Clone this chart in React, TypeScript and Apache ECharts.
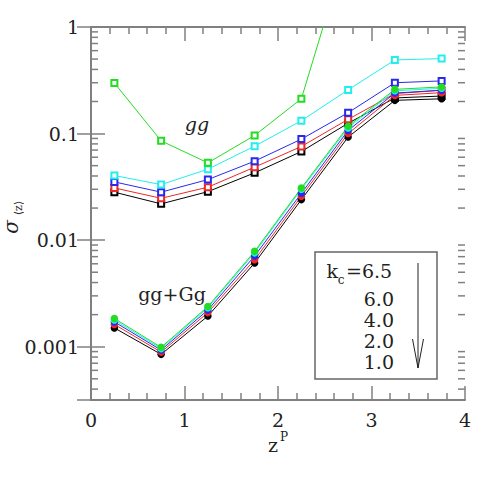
import React, { useEffect, useRef } from "react";
import * as echarts from "echarts";

const xValues = [0.25, 0.75, 1.25, 1.75, 2.25, 2.75, 3.25, 3.75];

// gg (open squares)
const ggK65 = [0.298, 0.0855, 0.0531, 0.096, 0.212, 6.0, null, null];
const ggK60 = [0.0404, 0.0332, 0.0463, 0.0762, 0.132, 0.257, 0.491, 0.505];
const ggK40 = [0.0352, 0.0282, 0.037, 0.0551, 0.0887, 0.157, 0.3, 0.312];
const ggK20 = [0.0309, 0.0247, 0.0314, 0.0484, 0.0757, 0.136, 0.237, 0.255];
const ggK10 = [0.0282, 0.0219, 0.0285, 0.0428, 0.0679, 0.125, 0.216, 0.225];

// gg+Gg (filled circles)
const gGgK65 = [0.00184, 0.000987, 0.00238, 0.00785, 0.0309, 0.117, 0.26, 0.274];
const gGgK60 = [0.00178, 0.00096, 0.00232, 0.0076, 0.03, 0.113, 0.252, 0.266];
const gGgK40 = [0.00171, 0.00093, 0.00221, 0.0071, 0.0275, 0.107, 0.24, 0.255];
const gGgK20 = [0.00162, 0.00089, 0.00209, 0.00655, 0.0258, 0.1, 0.228, 0.242];
const gGgK10 = [0.0015, 0.000848, 0.00194, 0.0061, 0.024, 0.0927, 0.205, 0.212];

const yTickLabels = ["1", "0.1", "0.01", "0.001"];
const legendValues = ["6.5", "6.0", "4.0", "2.0", "1.0"];

const GREEN = "#22dd22";
const CYAN = "#22eeee";
const BLUE = "#2828ee";
const RED = "#ee2828";
const BLACK = "#000000";

const FONT = "DejaVu Serif";
const TEXT = "#222";
const AXIS = "#808080";

const minorY: number[] = [];
for (let e = -4; e <= -1; e++) {
  for (let m = 2; m <= 9; m++) {
    const v = m * Math.pow(10, e);
    if (v > Math.pow(10, -3.5)) minorY.push(v);
  }
}

function pair(ys: (number | null)[]) {
  return xValues.map((x, i) => [x, ys[i] == null ? "-" : ys[i]]);
}

export default function App() {
  const ref = useRef<HTMLDivElement>(null);
  useEffect(() => {
    document.body.style.margin = "0";
    const chart = echarts.init(ref.current!, null, { renderer: "svg" });

    const sq = (name: string, ys: (number | null)[], color: string) => ({
      type: "line",
      name,
      data: pair(ys),
      symbol: "emptyRect",
      symbolSize: 6,
      showAllSymbol: true,
      lineStyle: { color, width: 1 },
      itemStyle: { color, borderColor: color, borderWidth: 1 },
      clip: true,
      z: 3,
    });
    const circ = (name: string, ys: number[], color: string) => ({
      type: "line",
      name,
      data: pair(ys),
      symbol: "circle",
      symbolSize: 7.5,
      lineStyle: { color, width: 1 },
      itemStyle: { color, borderColor: color, borderWidth: 0 },
      clip: true,
      z: 4,
    });

    const axisCommon = {
      min: 0,
      max: 4,
      interval: 1,
      axisLine: { lineStyle: { color: AXIS, width: 2 } },
      axisTick: { inside: true, length: 14, lineStyle: { color: AXIS, width: 1.5 } },
      minorTick: { show: true, splitNumber: 5, length: 7, lineStyle: { color: AXIS, width: 1.5 } },
      splitLine: { show: false },
    };
    const yCommon = {
      type: "log",
      logBase: 10,
      min: Math.pow(10, -3.5),
      max: 1,
      axisLine: { lineStyle: { color: AXIS, width: 2 } },
      axisTick: { inside: true, length: 14, lineStyle: { color: AXIS, width: 1.5 } },
      splitLine: { show: false },
    };

    const legendGraphics: any[] = [
      {
        type: "rect",
        shape: { x: 315, y: 252, width: 122, height: 127 },
        style: { fill: "none", stroke: "#666", lineWidth: 1.5 },
      },
      {
        type: "text",
        x: 338,
        y: 271,
        style: { text: "k", font: `19px "${FONT}"`, fill: TEXT, align: "right", verticalAlign: "middle" },
      },
      {
        type: "text",
        x: 341,
        y: 280,
        style: { text: "c", font: `12px "${FONT}"`, fill: TEXT, align: "center", verticalAlign: "middle" },
      },
      {
        type: "text",
        x: 346,
        y: 271,
        style: { text: "=" + legendValues[0], font: `19px "${FONT}"`, fill: TEXT, align: "left", verticalAlign: "middle" },
      },
      {
        type: "line",
        shape: { x1: 418, y1: 263, x2: 418, y2: 368 },
        style: { stroke: "#222", lineWidth: 1 },
      },
      {
        type: "polyline",
        shape: { points: [[412.5, 339], [418, 368], [423.5, 339]] },
        style: { stroke: "#222", lineWidth: 1, fill: "none" },
      },
    ];
    const legendYs = [299, 320, 341, 362];
    legendValues.slice(1).forEach((v, i) => {
      legendGraphics.push({
        type: "text",
        x: 394,
        y: legendYs[i],
        style: { text: v, font: `19px "${FONT}"`, fill: TEXT, align: "right", verticalAlign: "middle" },
      });
    });

    chart.setOption({
      animation: false,
      grid: { left: 91, top: 27, right: 26, bottom: 91, containLabel: false },
      xAxis: [
        {
          type: "value",
          position: "bottom",
          ...axisCommon,
          axisLabel: { margin: 10, color: TEXT, fontFamily: FONT, fontSize: 19 },
        },
        {
          type: "value",
          position: "top",
          ...axisCommon,
          axisLabel: { show: false },
        },
      ],
      yAxis: [
        {
          ...yCommon,
          position: "left",
          axisLabel: {
            margin: 12,
            color: TEXT,
            fontFamily: FONT,
            fontSize: 19,
            formatter: (v: number) => {
              const e = Math.log10(v);
              const r = Math.round(e);
              if (Math.abs(e - r) > 1e-6 || r > 0 || r < -3) return "";
              return yTickLabels[-r];
            },
          },
        },
        {
          ...yCommon,
          position: "right",
          axisLabel: { show: false },
        },
      ],
      series: [
        sq("gg kc=1.0", ggK10, BLACK),
        sq("gg kc=2.0", ggK20, RED),
        sq("gg kc=4.0", ggK40, BLUE),
        sq("gg kc=6.0", ggK60, CYAN),
        sq("gg kc=6.5", ggK65, GREEN),
        circ("gg+Gg kc=1.0", gGgK10, BLACK),
        circ("gg+Gg kc=2.0", gGgK20, RED),
        circ("gg+Gg kc=4.0", gGgK40, BLUE),
        circ("gg+Gg kc=6.0", gGgK60, CYAN),
        circ("gg+Gg kc=6.5", gGgK65, GREEN),
        {
          type: "custom",
          name: "minorTicksY",
          silent: true,
          clip: false,
          data: minorY.map((v) => [0, v]),
          renderItem: (params: any, api: any) => {
            const v = api.value(1);
            const p0 = api.coord([0, v]);
            const p1 = api.coord([4, v]);
            const st = { stroke: AXIS, lineWidth: 1.5 };
            return {
              type: "group",
              children: [
                { type: "line", shape: { x1: p0[0], y1: p0[1], x2: p0[0] + 7, y2: p0[1] }, style: st },
                { type: "line", shape: { x1: p1[0] - 7, y1: p1[1], x2: p1[0], y2: p1[1] }, style: st },
              ],
            };
          },
          z: 1,
        },
      ],
      graphic: [
        {
          type: "text",
          x: 197,
          y: 124,
          style: { text: "gg", font: `italic 19px "${FONT}"`, fill: TEXT, align: "center", verticalAlign: "middle" },
        },
        {
          type: "text",
          x: 172,
          y: 294,
          style: { text: "gg+Gg", font: `19px "${FONT}"`, fill: TEXT, align: "center", verticalAlign: "middle" },
        },
        {
          type: "text",
          x: 278,
          y: 445,
          style: { text: "z", font: `19px "${FONT}"`, fill: TEXT, align: "right", verticalAlign: "middle" },
        },
        {
          type: "text",
          x: 280,
          y: 437,
          style: { text: "P", font: `12px "${FONT}"`, fill: TEXT, align: "left", verticalAlign: "middle" },
        },
        {
          type: "group",
          x: 13,
          y: 228,
          rotation: Math.PI / 2,
          children: [
            {
              type: "text",
              x: 1,
              y: -2,
              style: { text: "σ", font: `italic 20px "${FONT}"`, fill: TEXT, align: "center", verticalAlign: "middle" },
            },
            {
              type: "text",
              x: 20,
              y: 5,
              style: { text: "⟨z⟩", font: `11px "${FONT}"`, fill: TEXT, align: "center", verticalAlign: "middle" },
            },
          ],
        },
        ...legendGraphics,
      ],
    });
    return () => chart.dispose();
  }, []);
  return <div ref={ref} style={{ width: 491, height: 491 }} />;
}
